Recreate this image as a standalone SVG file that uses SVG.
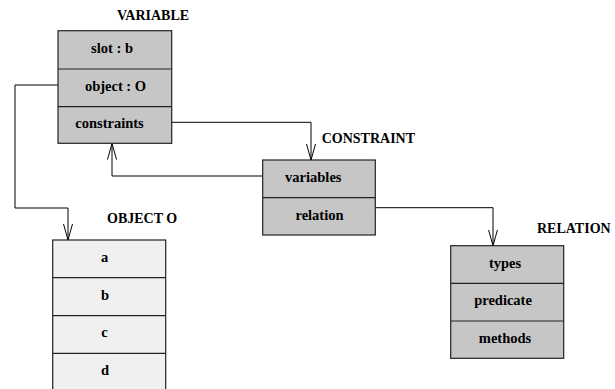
<svg xmlns="http://www.w3.org/2000/svg" width="615" height="389" viewBox="0 0 615 389">
<defs>
<marker id="v" markerWidth="17" markerHeight="10" refX="16" refY="5" orient="auto" markerUnits="userSpaceOnUse" viewBox="0 0 17 10">
<path d="M0,0.5 L16,5 L0,9.5" fill="none" stroke="#000" stroke-width="1"/>
</marker>
</defs>
<style>
text{font-family:"Liberation Serif","Times New Roman",serif;font-weight:bold;fill:#000}
.t{font-size:14px}
.c{font-size:14.5px;text-anchor:middle}
.g{fill:#c6c6c6;stroke:#222;stroke-width:1.2}
.l{fill:#f0f0f0;stroke:#222;stroke-width:1.2}
.d{stroke:#222;stroke-width:1.2}
.e{fill:none;stroke:#000;stroke-width:1}
</style>
<g id="connectors">
<path class="e" d="M68,85 H15 V208 H68 V240" marker-end="url(#v)"/>
<path class="e" d="M161,122.3 H311 V160" marker-end="url(#v)"/>
<path class="e" d="M278,176 H112 V143.5" marker-end="url(#v)"/>
<path class="e" d="M359,207.7 H493 V245.7" marker-end="url(#v)"/>
</g>
<g id="variable">
<text class="t" x="117" y="19.5">VARIABLE</text>
<rect class="g" x="58" y="30.7" width="113.7" height="112.6"/>
<line class="d" x1="58" y1="69" x2="171.7" y2="69"/>
<line class="d" x1="58" y1="106.7" x2="171.7" y2="106.7"/>
<text class="c" x="112" y="52.5">slot : b</text>
<text class="c" x="115.5" y="90.7">object : O</text>
<text class="c" x="109.5" y="128.4">constraints</text>
</g>
<g id="constraint">
<text class="t" x="321.7" y="143">CONSTRAINT</text>
<rect class="g" x="262.7" y="160" width="112.6" height="75"/>
<line class="d" x1="262.7" y1="197.7" x2="375.3" y2="197.7"/>
<text class="c" x="313.3" y="182">variables</text>
<text class="c" x="319.5" y="219.5">relation</text>
</g>
<g id="object-o">
<text class="t" x="107" y="223">OBJECT O</text>
<rect class="l" x="52.7" y="240" width="113" height="155"/>
<line class="d" x1="52.7" y1="277.7" x2="165.7" y2="277.7"/>
<line class="d" x1="52.7" y1="315.7" x2="165.7" y2="315.7"/>
<line class="d" x1="52.7" y1="353.3" x2="165.7" y2="353.3"/>
<text class="c" x="104.5" y="261.7">a</text>
<text class="c" x="105" y="299.5">b</text>
<text class="c" x="104.5" y="337.3">c</text>
<text class="c" x="105" y="375">d</text>
</g>
<g id="relation">
<text class="t" x="537" y="233">RELATION</text>
<rect class="g" x="450.7" y="245.7" width="113" height="112.6"/>
<line class="d" x1="450.7" y1="283.3" x2="563.7" y2="283.3"/>
<line class="d" x1="450.7" y1="321" x2="563.7" y2="321"/>
<text class="c" x="505" y="267.5">types</text>
<text class="c" x="503" y="305">predicate</text>
<text class="c" x="505" y="342.7">methods</text>
</g>
</svg>
